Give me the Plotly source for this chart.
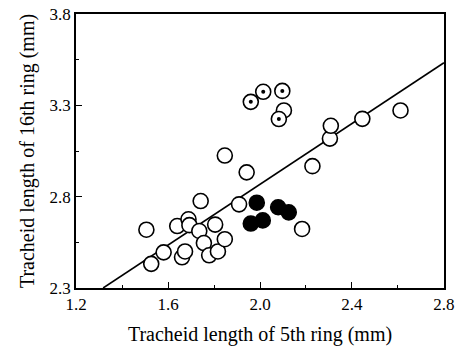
import plotly.graph_objects as go

# Open circles
open_x = [1.506, 1.527, 1.581, 1.640, 1.661, 1.674, 1.689, 1.693, 1.742, 1.736, 1.756, 1.779,
          1.805, 1.817, 1.847, 1.847, 1.909, 1.942, 2.183, 2.228, 2.304, 2.308, 2.445, 2.611, 2.104]
open_y = [2.619, 2.432, 2.495, 2.639, 2.468, 2.500, 2.676, 2.644, 2.776, 2.612, 2.546, 2.479,
          2.647, 2.500, 2.567, 3.025, 2.758, 2.933, 2.623, 2.967, 3.118, 3.188, 3.226, 3.272, 3.272]
# Circles with a dot
dot_x = [1.960, 2.014, 2.097, 2.082]
dot_y = [3.319, 3.374, 3.379, 3.225]
# Filled circles
fill_x = [1.986, 1.960, 2.012, 2.079, 2.125]
fill_y = [2.767, 2.653, 2.670, 2.742, 2.714]
# Regression line
line_x = [1.318, 2.8]
line_y = [2.3, 3.533]

FONT = "Liberation Serif"
fig = go.Figure()
fig.add_trace(go.Scatter(x=line_x, y=line_y, mode="lines",
                         line=dict(color="black", width=1.6), showlegend=False))
fig.add_trace(go.Scatter(x=open_x, y=open_y, mode="markers",
                         marker=dict(size=15, color="white", line=dict(color="black", width=1.6)),
                         showlegend=False))
fig.add_trace(go.Scatter(x=dot_x, y=dot_y, mode="markers",
                         marker=dict(size=15, color="white", line=dict(color="black", width=1.6)),
                         showlegend=False))
fig.add_trace(go.Scatter(x=dot_x, y=dot_y, mode="markers",
                         marker=dict(size=4, color="black"), hoverinfo="skip",
                         showlegend=False))
fig.add_trace(go.Scatter(x=fill_x, y=fill_y, mode="markers",
                         marker=dict(size=15, color="black", line=dict(color="black", width=1.6)),
                         showlegend=False))

fig.update_layout(
    width=460, height=347,
    margin=dict(l=76, r=14, t=5, b=58),
    paper_bgcolor="white", plot_bgcolor="white",
    font=dict(family=FONT, size=17, color="black"),
    xaxis=dict(range=[1.1999, 2.8001], tickvals=[1.2, 1.6, 2.0, 2.4, 2.8],
               ticktext=["1.2", "1.6", "2.0", "2.4", "2.8"], ticklabeloverflow="allow",
               ticks="inside", ticklen=6, tickcolor="black", tickwidth=1.2,
               minor=dict(tickvals=[1.4, 1.8, 2.2, 2.6], ticks="inside", ticklen=3, tickcolor="black"),
               showline=True, linecolor="black", linewidth=1.5, mirror=True,
               showgrid=False, zeroline=False,
               title=dict(text="Tracheid length of 5th ring (mm)", standoff=14)),
    yaxis=dict(range=[2.2999, 3.8001], tickvals=[2.3, 2.8, 3.3, 3.8],
               ticktext=["2.3", "2.8", "3.3", "3.8"], ticklabeloverflow="allow",
               ticks="inside", ticklen=6, tickcolor="black", tickwidth=1.2,
               minor=dict(tickvals=[2.55, 3.05, 3.55], ticks="inside", ticklen=3, tickcolor="black"),
               showline=True, linecolor="black", linewidth=1.5, mirror=True,
               showgrid=False, zeroline=False,
               title=dict(text="Tracheid length of 16th ring (mm)", standoff=10)),
)
fig.write_html("out.html")
